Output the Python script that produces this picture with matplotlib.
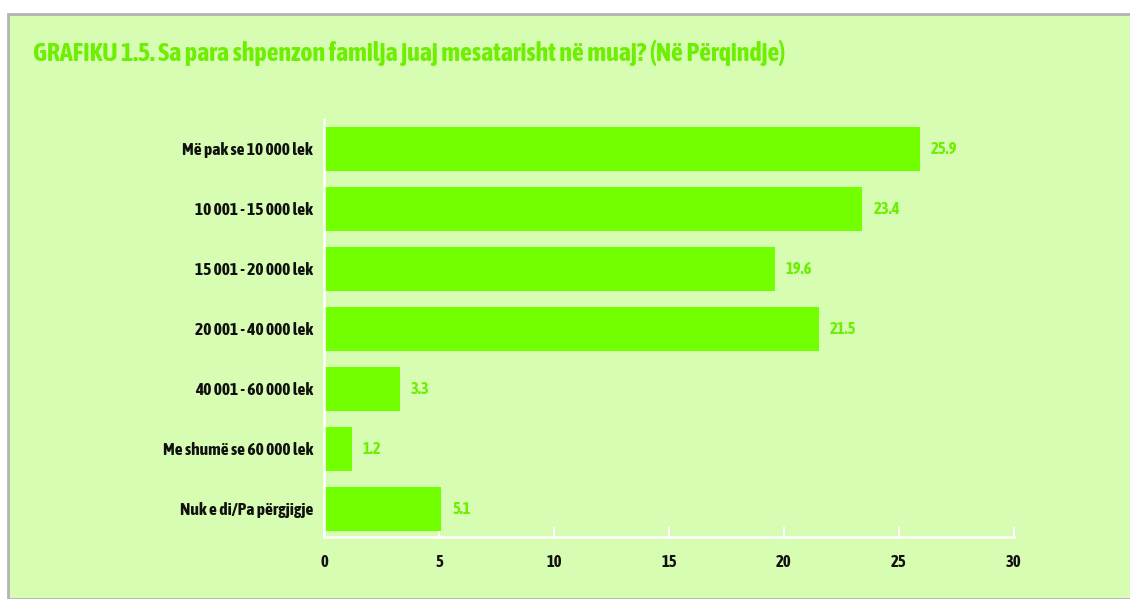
import matplotlib
matplotlib.use("Agg")
import matplotlib.pyplot as plt
from matplotlib.patches import Rectangle

categories = ["Më pak se 10 000 lek", "10 001 - 15 000 lek", "15 001 - 20 000 lek",
              "20 001 - 40 000 lek", "40 001 - 60 000 lek", "Me shumë se 60 000 lek",
              "Nuk e di/Pa përgjigje"]
values = [25.9, 23.4, 19.6, 21.5, 3.3, 1.2, 5.1]
xticks = [0, 5, 10, 15, 20, 25, 30]
title = "GRAFIKU 1.5. Sa para shpenzon familja juaj mesatarisht në muaj? (Në Përqindje)"

FONT = ["Asap Condensed", "Liberation Sans Narrow", "DejaVu Sans"]
plt.rcParams['font.family'] = FONT

W, H = 1130, 599
BG = "#D6FDB1"
BAR = "#72FF00"
TXT = "#6CEF00"

fig = plt.figure(figsize=(W/100, H/100), dpi=100)
fig.patch.set_facecolor("white")
frame = Rectangle((8/W, 0), 1 - 8/W + 0.01, 1 - 14/H, transform=fig.transFigure,
                  facecolor=BG, edgecolor="#B4B4B4", linewidth=2, zorder=-10)
fig.patches.append(frame)

fig.text(33/W, 1 - 53/H, title, color=TXT, fontsize=18.7, fontweight="bold",
         ha="left", va="center")

left, right = 324/W, 1014/W
top, bottom = 1 - 119/H, 1 - 537/H
ax = fig.add_axes([left, bottom, right - left, top - bottom])
ax.set_facecolor("none")

y = list(range(len(categories)))
ax.barh(y, values, height=0.733, color=BAR, zorder=2)
for yi, v in zip(y, values):
    ax.text(v + 0.48, yi, f"{v}", color=TXT, fontsize=12, fontweight="bold",
            ha="left", va="center")

ax.set_xlim(0, 30)
ax.set_ylim(6.467, -0.5)
ax.set_yticks(y)
ax.set_yticklabels(categories, fontsize=12.6, fontweight="bold", color="#111111")
ax.set_xticks(xticks)
ax.set_xticklabels([str(t) for t in xticks], fontsize=12, fontweight="bold", color="#111111")
ax.tick_params(axis="y", length=0, pad=8)
ax.tick_params(axis="x", direction="in", length=7, width=1.5, color="white", pad=12)
for s in ["top", "right"]:
    ax.spines[s].set_visible(False)
for s in ["left", "bottom"]:
    ax.spines[s].set_color("white")
    ax.spines[s].set_linewidth(1.8)
    ax.spines[s].set_zorder(3)

fig.savefig("out.png", dpi=100, facecolor=fig.get_facecolor())
